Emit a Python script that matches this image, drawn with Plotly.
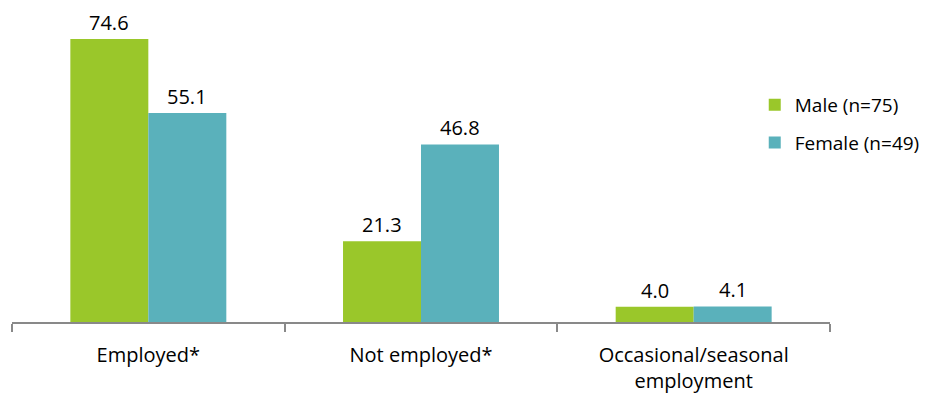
import plotly.graph_objects as go

categories = ["Employed*", "Not employed*", "Occasional/seasonal<br>employment"]
male = [74.6, 21.3, 4.0]
female = [55.1, 46.8, 4.1]
series_names = ["Male (n=75)", "Female (n=49)"]
colors = ["#9AC72A", "#5AB1BB"]

FONT = "Open Sans"
fig = go.Figure()
for name, vals, col in zip(series_names, [male, female], colors):
    fig.add_trace(go.Bar(
        x=categories, y=vals, name=name, marker_color=col,
        marker_line_width=0, legendgroup=name,
    ))

# value labels above each bar
half = 39
for vals, shift in [(male, -half), (female, half)]:
    for c, v in zip(categories, vals):
        fig.add_annotation(
            x=c, y=v, text=f"{v:.1f}", showarrow=False,
            xshift=shift, yanchor="bottom", yshift=1,
            font=dict(family=FONT, size=20, color="#000000"),
        )

fig.update_layout(
    width=933, height=394,
    margin=dict(l=12, r=103, t=0, b=72, autoexpand=False),
    plot_bgcolor="white", paper_bgcolor="white",
    barmode="group", bargap=0.428, bargroupgap=0,
    font=dict(family=FONT, size=20, color="#000000"),
    legend=dict(
        x=0.908, xanchor="left", y=0.615, yanchor="middle",
        font=dict(family=FONT, size=19, color="#000000"),
        traceorder="grouped", tracegroupgap=10,
        itemwidth=30,
    ),
    xaxis=dict(
        showline=True, linecolor="#898989", linewidth=1.5,
        ticks="outside", tickson="boundaries", ticklen=8,
        tickcolor="#898989", tickwidth=1.5,
        tickfont=dict(family=FONT, size=20, color="#000000"),
        ticklabelstandoff=14,
        showgrid=False,
    ),
    yaxis=dict(range=[0, 84.87], visible=False, showgrid=False),
)

fig.write_html("out.html")
